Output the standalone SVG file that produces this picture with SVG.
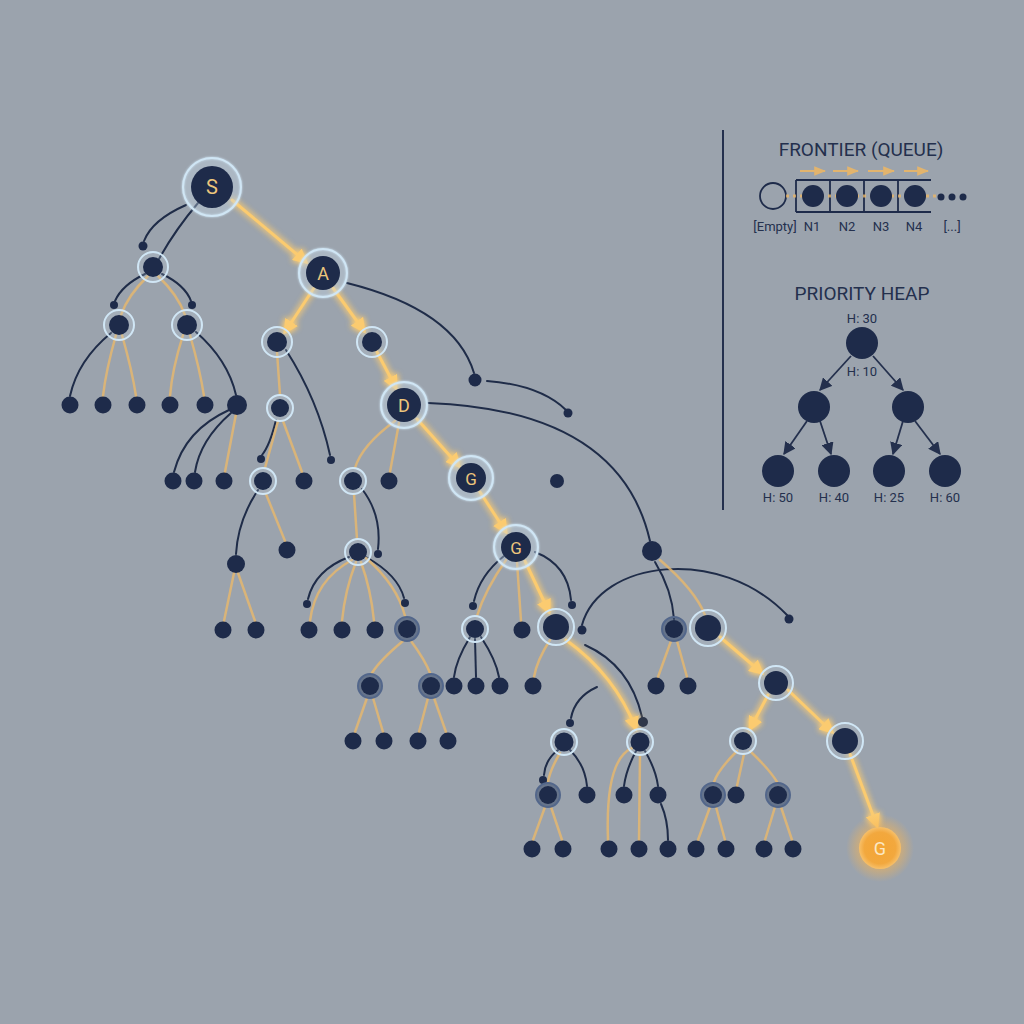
<svg xmlns="http://www.w3.org/2000/svg" width="1024" height="1024" viewBox="0 0 1024 1024">
<defs>
<style>
.n{fill:#1e2b4a}
.ring{fill:#c9dcea;fill-opacity:0.2;stroke:#d0e6f5;stroke-width:2}
.dring{fill:#3b4e70;fill-opacity:0.55;stroke:#53678b;stroke-width:2}
.e{stroke:#e9b86c;stroke-width:2.5;fill:none;opacity:0.8;stroke-linecap:round}
.d{stroke:#1f2c48;stroke-width:2;fill:none;stroke-linecap:round}
.p{stroke:#fbcb70;stroke-width:3;fill:none;stroke-linecap:round;marker-end:url(#arr)}
.lbl{font-family:Roboto,"Liberation Sans",sans-serif;fill:#ecc57c;text-anchor:middle}
.t{font-family:Roboto,"Liberation Sans",sans-serif;fill:#24304d;text-anchor:middle}
.ha{stroke:#24304d;stroke-width:1.8;fill:none;marker-end:url(#harr)}
</style>
<marker id="arr" viewBox="0 0 10 10" refX="8" refY="5" markerWidth="5" markerHeight="5" orient="auto" markerUnits="strokeWidth">
<path d="M0,0 L10,5 L0,10 z" fill="#fbcb70"/>
</marker>
<marker id="harr" viewBox="0 0 10 10" refX="9" refY="5" markerWidth="7" markerHeight="7" orient="auto" markerUnits="strokeWidth">
<path d="M0,0 L10,5 L0,10 z" fill="#24304d"/>
</marker>
<marker id="qarr" viewBox="0 0 10 10" refX="9" refY="5" markerWidth="6" markerHeight="6" orient="auto" markerUnits="strokeWidth">
<path d="M0,1 L10,5 L0,9 z" fill="#eab668"/>
</marker>
<filter id="glow" x="-50%" y="-50%" width="200%" height="200%">
<feGaussianBlur in="SourceGraphic" stdDeviation="3" result="b"/>
<feMerge><feMergeNode in="b"/><feMergeNode in="b"/><feMergeNode in="SourceGraphic"/></feMerge>
</filter>
<filter id="soft" x="-30%" y="-30%" width="160%" height="160%">
<feGaussianBlur in="SourceGraphic" stdDeviation="1.2" result="b"/>
<feMerge><feMergeNode in="b"/><feMergeNode in="SourceGraphic"/></feMerge>
</filter>
<radialGradient id="goalg" cx="0.5" cy="0.5" r="0.5">
<stop offset="0" stop-color="#f4a534"/>
<stop offset="0.75" stop-color="#f2a83e"/>
<stop offset="1" stop-color="#f7c06a"/>
</radialGradient>
<radialGradient id="goalglow" cx="0.5" cy="0.5" r="0.5">
<stop offset="0.45" stop-color="#f7b450" stop-opacity="0.7"/>
<stop offset="1" stop-color="#f7b450" stop-opacity="0"/>
</radialGradient>
</defs>
<rect width="1024" height="1024" fill="#9ba3ad"/>

<g id="connectors">
<g id="dark-edges">
<path class="d" d="M198,203 Q175,230 159,259"/>
<path class="d" d="M186,205 Q152,220 144,241"/>
<path class="d" d="M145,274 Q122,285 115,301"/>
<path class="d" d="M162,274 Q185,285 191,301"/>
<path class="d" d="M111,333 Q78,360 70,396"/>
<path class="d" d="M196,332 Q228,360 236,395"/>
<path class="d" d="M229,410 Q185,430 174,472"/>
<path class="d" d="M231,413 Q200,440 195,472"/>
<path class="d" d="M347,283 Q455,310 474,373"/>
<path class="d" d="M487,381 Q540,385 566,410"/>
<path class="d" d="M286,350 Q318,400 330,455"/>
<path class="d" d="M276,420 Q270,445 262,455"/>
<path class="d" d="M258,490 Q238,520 236,554"/>
<path class="d" d="M362,489 Q382,515 378,549"/>
<path class="d" d="M349,557 Q315,570 308,599"/>
<path class="d" d="M366,557 Q398,575 404,598"/>
<path class="d" d="M428,403 Q620,410 650,541"/>
<path class="d" d="M655,562 Q672,590 674,619"/>
<path class="d" d="M582,625 C600,560 720,545 787,615"/>
<path class="d" d="M504,556 Q480,575 474,601"/>
<path class="d" d="M535,552 Q568,565 571,600"/>
<path class="d" d="M470,637 Q456,660 454,677"/>
<path class="d" d="M475,639 L476,677"/>
<path class="d" d="M481,637 Q496,660 499,677"/>
<path class="d" d="M585,645 Q630,665 642,717"/>
<path class="d" d="M597,687 Q575,697 571,718"/>
<path class="d" d="M558,750 Q545,760 544,775"/>
<path class="d" d="M570,750 Q585,765 587,786"/>
<path class="d" d="M636,751 Q626,770 624,786"/>
<path class="d" d="M645,751 Q656,770 658,786"/>
<path class="d" d="M661,804 Q668,820 668,840"/>
</g>
<g id="tree-edges">
<path class="e" d="M148,276 Q128,295 121,315"/>
<path class="e" d="M158,276 Q178,295 185,315"/>
<path class="e" d="M116,335 Q106,370 103,396"/>
<path class="e" d="M122,335 Q132,370 136,396"/>
<path class="e" d="M183,335 Q172,370 170,396"/>
<path class="e" d="M190,335 Q200,370 204,396"/>
<path class="e" d="M236,414 L225,472"/>
<path class="e" d="M277,352 L280,395"/>
<path class="e" d="M278,421 L265,468"/>
<path class="e" d="M283,421 L302,472"/>
<path class="e" d="M266,494 L285,541"/>
<path class="e" d="M234,573 L224,621"/>
<path class="e" d="M238,573 L255,621"/>
<path class="e" d="M395,421 Q362,445 355,468"/>
<path class="e" d="M399,423 L390,472"/>
<path class="e" d="M354,494 L357,539"/>
<path class="e" d="M352,560 Q315,580 310,621"/>
<path class="e" d="M356,562 Q345,590 342,621"/>
<path class="e" d="M361,562 Q371,590 374,621"/>
<path class="e" d="M366,558 Q397,585 405,616"/>
<path class="e" d="M403,641 Q380,660 372,673"/>
<path class="e" d="M411,641 Q425,660 430,673"/>
<path class="e" d="M367,698 L355,732"/>
<path class="e" d="M373,698 L383,732"/>
<path class="e" d="M428,698 L419,732"/>
<path class="e" d="M434,698 L446,732"/>
<path class="e" d="M506,560 Q485,590 477,616"/>
<path class="e" d="M517,562 L521,621"/>
<path class="e" d="M550,640 Q537,660 534,677"/>
<path class="e" d="M660,560 Q695,590 705,615"/>
<path class="e" d="M671,641 L658,677"/>
<path class="e" d="M677,641 L687,677"/>
<path class="e" d="M737,751 Q718,770 714,782"/>
<path class="e" d="M744,754 L737,786"/>
<path class="e" d="M750,751 Q770,770 777,782"/>
<path class="e" d="M710,807 L698,840"/>
<path class="e" d="M716,807 L725,840"/>
<path class="e" d="M775,807 L765,840"/>
<path class="e" d="M781,807 L792,840"/>
<path class="e" d="M560,753 Q550,770 548,782"/>
<path class="e" d="M545,807 L533,840"/>
<path class="e" d="M551,807 L562,840"/>
<path class="e" d="M632,748 Q605,760 608,840"/>
<path class="e" d="M640,755 L639,840"/>
</g>
<g id="search-path" filter="url(#glow)">
<path class="p" d="M232,200 L306,262"/>
<path class="p" d="M314,288 L285,332"/>
<path class="p" d="M333,288 L364,331"/>
<path class="p" d="M377,352 L396,388"/>
<path class="p" d="M417,419 L459,466"/>
<path class="p" d="M480,492 L506,532"/>
<path class="p" d="M525,561 L549,612"/>
<path class="p" d="M566,640 Q615,675 636,729"/>
<path class="p" d="M720,637 L762,673"/>
<path class="p" d="M768,695 L750,729"/>
<path class="p" d="M788,690 L832,732"/>
<path class="p" d="M850,754 L877,826"/>
</g>
</g>

<g id="nodes">
<g id="S"><circle class="ring" cx="212" cy="187" r="29" filter="url(#soft)"/><circle class="n" cx="212" cy="187" r="21"/><text class="lbl" x="212" y="194" font-size="20">S</text></g>
<g id="n1"><circle class="ring" cx="153" cy="267" r="15"/><circle class="n" cx="153" cy="267" r="10"/></g>
<g id="sd1"><circle class="n" cx="143" cy="246" r="4.5"/></g>
<g id="sd2"><circle class="n" cx="114" cy="305" r="4"/></g>
<g id="sd3"><circle class="n" cx="192" cy="305" r="4"/></g>
<g id="n2"><circle class="ring" cx="119" cy="325" r="15"/><circle class="n" cx="119" cy="325" r="10"/></g>
<g id="n3"><circle class="ring" cx="187" cy="325" r="15"/><circle class="n" cx="187" cy="325" r="10"/></g>
<g id="l1"><circle class="n" cx="70" cy="405" r="8.5"/></g>
<g id="l2"><circle class="n" cx="103" cy="405" r="8.5"/></g>
<g id="l3"><circle class="n" cx="137" cy="405" r="8.5"/></g>
<g id="l4"><circle class="n" cx="170" cy="405" r="8.5"/></g>
<g id="l5"><circle class="n" cx="205" cy="405" r="8.5"/></g>
<g id="n4"><circle class="n" cx="237" cy="405" r="10"/></g>
<g id="l6"><circle class="n" cx="173" cy="481" r="8.5"/></g>
<g id="l7"><circle class="n" cx="194" cy="481" r="8.5"/></g>
<g id="l8"><circle class="n" cx="224" cy="481" r="8.5"/></g>

<g id="A"><circle class="ring" cx="323" cy="273" r="24" filter="url(#soft)"/><circle class="n" cx="323" cy="273" r="17"/><text class="lbl" x="323" y="280" font-size="18">A</text></g>
<g id="n5"><circle class="ring" cx="277" cy="342" r="15"/><circle class="n" cx="277" cy="342" r="10"/></g>
<g id="n6"><circle class="ring" cx="372" cy="342" r="15"/><circle class="n" cx="372" cy="342" r="10"/></g>
<g id="D"><circle class="ring" cx="404" cy="405" r="23" filter="url(#soft)"/><circle class="n" cx="404" cy="405" r="17"/><text class="lbl" x="404" y="412" font-size="18">D</text></g>
<g id="n7"><circle class="ring" cx="280" cy="408" r="13"/><circle class="n" cx="280" cy="408" r="9"/></g>
<g id="sd4"><circle class="n" cx="331" cy="460" r="4"/></g>
<g id="sd5"><circle class="n" cx="261" cy="459" r="4"/></g>
<g id="n8"><circle class="ring" cx="263" cy="481" r="13"/><circle class="n" cx="263" cy="481" r="9"/></g>
<g id="l9"><circle class="n" cx="304" cy="481" r="8.5"/></g>
<g id="n9"><circle class="ring" cx="353" cy="481" r="13"/><circle class="n" cx="353" cy="481" r="9"/></g>
<g id="l10"><circle class="n" cx="389" cy="481" r="8.5"/></g>
<g id="G1"><circle class="ring" cx="471" cy="478" r="22" filter="url(#soft)"/><circle class="n" cx="471" cy="478" r="15"/><text class="lbl" x="471" y="485" font-size="17">G</text></g>
<g id="x1"><circle class="n" cx="557" cy="481" r="7"/></g>
<g id="x2"><circle class="n" cx="475" cy="380" r="6.5"/></g>
<g id="x3"><circle class="n" cx="568" cy="413" r="4.5"/></g>
<g id="n10"><circle class="n" cx="236" cy="564" r="9"/></g>
<g id="l11"><circle class="n" cx="287" cy="550" r="8.5"/></g>
<g id="n11"><circle class="ring" cx="358" cy="552" r="13"/><circle class="n" cx="358" cy="552" r="9"/></g>
<g id="sd6"><circle class="n" cx="378" cy="554" r="4"/></g>
<g id="sd7"><circle class="n" cx="307" cy="604" r="4"/></g>
<g id="sd8"><circle class="n" cx="405" cy="603" r="4"/></g>
<g id="l12"><circle class="n" cx="223" cy="630" r="8.5"/></g>
<g id="l13"><circle class="n" cx="256" cy="630" r="8.5"/></g>
<g id="l14"><circle class="n" cx="309" cy="630" r="8.5"/></g>
<g id="l15"><circle class="n" cx="342" cy="630" r="8.5"/></g>
<g id="l16"><circle class="n" cx="375" cy="630" r="8.5"/></g>
<g id="n12"><circle class="dring" cx="407" cy="629" r="12"/><circle class="n" cx="407" cy="629" r="9"/></g>
<g id="n12a"><circle class="dring" cx="370" cy="686" r="12"/><circle class="n" cx="370" cy="686" r="9"/></g>
<g id="n12b"><circle class="dring" cx="431" cy="686" r="12"/><circle class="n" cx="431" cy="686" r="9"/></g>
<g id="l17"><circle class="n" cx="353" cy="741" r="8.5"/></g>
<g id="l18"><circle class="n" cx="384" cy="741" r="8.5"/></g>
<g id="l19"><circle class="n" cx="418" cy="741" r="8.5"/></g>
<g id="l20"><circle class="n" cx="448" cy="741" r="8.5"/></g>

<g id="G2"><circle class="ring" cx="516" cy="547" r="22" filter="url(#soft)"/><circle class="n" cx="516" cy="547" r="15"/><text class="lbl" x="516" y="554" font-size="17">G</text></g>
<g id="sd9"><circle class="n" cx="473" cy="606" r="4"/></g>
<g id="n13"><circle class="ring" cx="475" cy="629" r="13"/><circle class="n" cx="475" cy="629" r="9"/></g>
<g id="l21"><circle class="n" cx="522" cy="630" r="8.5"/></g>
<g id="n14"><circle class="ring" cx="556" cy="627" r="18"/><circle class="n" cx="556" cy="627" r="13"/></g>
<g id="sd10"><circle class="n" cx="572" cy="605" r="4"/></g>
<g id="l22"><circle class="n" cx="454" cy="686" r="8.5"/></g>
<g id="l23"><circle class="n" cx="476" cy="686" r="8.5"/></g>
<g id="l24"><circle class="n" cx="500" cy="686" r="8.5"/></g>
<g id="l25"><circle class="n" cx="533" cy="686" r="8.5"/></g>
<g id="sd11"><circle class="n" cx="582" cy="630" r="4.5"/></g>
<g id="sd12"><circle class="n" cx="789" cy="619" r="4.5"/></g>
<g id="n15a"><circle class="n" cx="652" cy="551" r="10"/></g>
<g id="n16a"><circle class="dring" cx="674" cy="629" r="12"/><circle class="n" cx="674" cy="629" r="9"/></g>
<g id="n15"><circle class="ring" cx="708" cy="628" r="18"/><circle class="n" cx="708" cy="628" r="13"/></g>
<g id="l26"><circle class="n" cx="656" cy="686" r="8.5"/></g>
<g id="l27"><circle class="n" cx="688" cy="686" r="8.5"/></g>
<g id="n16"><circle class="ring" cx="776" cy="683" r="17"/><circle class="n" cx="776" cy="683" r="12"/></g>
<g id="n17"><circle class="ring" cx="743" cy="741" r="13"/><circle class="n" cx="743" cy="741" r="9"/></g>
<g id="n18"><circle class="ring" cx="845" cy="741" r="18"/><circle class="n" cx="845" cy="741" r="13"/></g>
<g id="goal"><circle cx="880" cy="848" r="34" fill="url(#goalglow)"/><circle cx="880" cy="848" r="21" fill="url(#goalg)"/><text x="880" y="855" font-size="18" font-family="Roboto,'Liberation Sans',sans-serif" fill="#fbe8c4" text-anchor="middle">G</text></g>
<g id="sd13"><circle class="n" cx="570" cy="723" r="4"/></g>
<g id="sd14"><circle cx="643" cy="722" r="5" fill="#2e3648"/></g>
<g id="n19"><circle class="ring" cx="564" cy="742" r="13"/><circle class="n" cx="564" cy="742" r="9.5"/></g>
<g id="n20"><circle class="ring" cx="640" cy="742" r="13"/><circle class="n" cx="640" cy="742" r="9.5"/></g>
<g id="sd15"><circle class="n" cx="543" cy="780" r="4"/></g>
<g id="m1"><circle class="dring" cx="548" cy="795" r="12"/><circle class="n" cx="548" cy="795" r="9"/></g>
<g id="m2"><circle class="n" cx="587" cy="795" r="8.5"/></g>
<g id="m3"><circle class="n" cx="624" cy="795" r="8.5"/></g>
<g id="m4"><circle class="n" cx="658" cy="795" r="8.5"/></g>
<g id="m5"><circle class="dring" cx="713" cy="795" r="12"/><circle class="n" cx="713" cy="795" r="9"/></g>
<g id="m6"><circle class="n" cx="736" cy="795" r="8.5"/></g>
<g id="m7"><circle class="dring" cx="778" cy="795" r="12"/><circle class="n" cx="778" cy="795" r="9"/></g>
<g id="b1"><circle class="n" cx="532" cy="849" r="8.5"/></g>
<g id="b2"><circle class="n" cx="563" cy="849" r="8.5"/></g>
<g id="b3"><circle class="n" cx="609" cy="849" r="8.5"/></g>
<g id="b4"><circle class="n" cx="639" cy="849" r="8.5"/></g>
<g id="b5"><circle class="n" cx="668" cy="849" r="8.5"/></g>
<g id="b6"><circle class="n" cx="696" cy="849" r="8.5"/></g>
<g id="b7"><circle class="n" cx="726" cy="849" r="8.5"/></g>
<g id="b8"><circle class="n" cx="764" cy="849" r="8.5"/></g>
<g id="b9"><circle class="n" cx="793" cy="849" r="8.5"/></g>
</g>

<g id="panel">
<line x1="723" y1="130" x2="723" y2="510" stroke="#24304d" stroke-width="2"/>
<g id="queue">
<text class="t" x="861" y="156" font-size="19">FRONTIER (QUEUE)</text>
<g stroke="#eab668" stroke-width="2" opacity="0.9">
<line x1="800" y1="171" x2="825" y2="171" marker-end="url(#qarr)"/>
<line x1="833" y1="171" x2="858" y2="171" marker-end="url(#qarr)"/>
<line x1="868" y1="171" x2="894" y2="171" marker-end="url(#qarr)"/>
<line x1="904" y1="171" x2="928" y2="171" marker-end="url(#qarr)"/>
</g>
<circle cx="773" cy="196" r="13" fill="none" stroke="#1e2b4a" stroke-width="1.8"/>
<g stroke="#1e2b4a" stroke-width="1.8">
<line x1="796" y1="180" x2="931" y2="180"/>
<line x1="796" y1="212" x2="931" y2="212"/>
<line x1="796" y1="180" x2="796" y2="212"/>
<line x1="830" y1="180" x2="830" y2="212"/>
<line x1="864" y1="180" x2="864" y2="212"/>
<line x1="898" y1="180" x2="898" y2="212"/>
</g>
<line x1="786" y1="196" x2="940" y2="196" stroke="#eab668" stroke-width="3" stroke-dasharray="3 4" opacity="0.8"/>
<circle class="n" cx="813" cy="196" r="11"/>
<circle class="n" cx="847" cy="196" r="11"/>
<circle class="n" cx="881" cy="196" r="11"/>
<circle class="n" cx="915" cy="196" r="11"/>
<circle class="n" cx="941" cy="197" r="3.5"/>
<circle class="n" cx="952" cy="197" r="3.5"/>
<circle class="n" cx="963" cy="197" r="3.5"/>
<text class="t" x="775" y="231" font-size="13">[Empty]</text>
<text class="t" x="812" y="231" font-size="13">N1</text>
<text class="t" x="847" y="231" font-size="13">N2</text>
<text class="t" x="881" y="231" font-size="13">N3</text>
<text class="t" x="914" y="231" font-size="13">N4</text>
<text class="t" x="952" y="231" font-size="13">[...]</text>
</g>
<g id="heap">
<text class="t" x="862" y="300" font-size="19">PRIORITY HEAP</text>
<text class="t" x="862" y="323" font-size="13">H: 30</text>
<line class="ha" x1="851" y1="356" x2="820" y2="390"/>
<line class="ha" x1="873" y1="356" x2="903" y2="390"/>
<line class="ha" x1="807" y1="421" x2="784" y2="454"/>
<line class="ha" x1="820" y1="421" x2="831" y2="454"/>
<line class="ha" x1="903" y1="421" x2="893" y2="454"/>
<line class="ha" x1="915" y1="421" x2="940" y2="454"/>
<circle class="n" cx="862" cy="343" r="16"/>
<text class="t" x="862" y="376" font-size="13">H: 10</text>
<circle class="n" cx="814" cy="407" r="16"/>
<circle class="n" cx="908" cy="407" r="16"/>
<circle class="n" cx="778" cy="471" r="16"/>
<circle class="n" cx="834" cy="471" r="16"/>
<circle class="n" cx="889" cy="471" r="16"/>
<circle class="n" cx="945" cy="471" r="16"/>
<text class="t" x="778" y="502" font-size="13">H: 50</text>
<text class="t" x="834" y="502" font-size="13">H: 40</text>
<text class="t" x="889" y="502" font-size="13">H: 25</text>
<text class="t" x="945" y="502" font-size="13">H: 60</text>
</g>
</g>
</svg>
